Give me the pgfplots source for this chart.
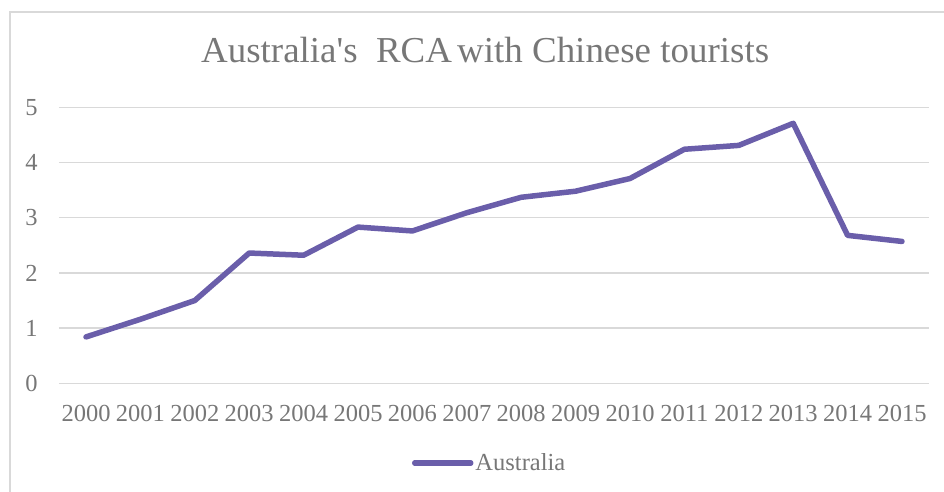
\documentclass[border=0pt]{standalone}
\usepackage{pgfplots}
\pgfplotsset{compat=1.18}
\usepackage{fontspec}
\setmainfont{Liberation Serif}[Ligatures=TeXOff]

\definecolor{rcaline}{HTML}{6A5EAA}
\definecolor{txtgray}{HTML}{777777}
\definecolor{gridgray}{HTML}{D9D9D9}

\begin{document}
\begin{tikzpicture}[x=1pt,y=1pt]
\useasboundingbox (0,0) rectangle (944,492);
% chart area border (only left and top edges are inside the crop)
\draw[gridgray, line width=2pt] (10,-2) -- (10,480) -- (946,480);
% title
\node[anchor=base west, text=txtgray, font=\fontsize{36.5}{40}\selectfont, inner sep=0pt, xscale=1.012]
  at (201,429) {Australia's\ \ RCA\hspace{-4pt} with Chinese tourists};

\begin{axis}[
    at={(58.8pt,108.7pt)},
    anchor=south west,
    scale only axis,
    width=870.4pt,
    height=276pt,
    xmin=1999.5, xmax=2015.5,
    ymin=0, ymax=5,
    xtick=data,
    xticklabels={2000,2001,2002,2003,2004,2005,2006,2007,2008,2009,2010,2011,2012,2013,2014,2015},
    ytick={0,1,2,3,4,5},
    axis line style={draw=none},
    tick style={draw=none},
    ymajorgrids,
    major grid style={gridgray, line width=1.5pt},
    /pgf/number format/assume math mode=true,
    ticklabel style={text=txtgray, font=\fontsize{24.5}{28}\selectfont, inner sep=0pt},
    yticklabel style={anchor=east},
    xticklabel style={anchor=north},
    yticklabel shift=21pt,
    xticklabel shift=21.5pt,
    legend style={
        at={(0.495,-0.289)}, anchor=center, draw=none, fill=none,
        font=\fontsize{24.5}{28}\selectfont, text=txtgray,
        inner sep=0pt, legend cell align=left,
    },
    legend image code/.code={
        \draw[#1, line cap=round] (0pt,0pt) -- (56pt,0pt);
    },
]
\addplot[rcaline, line width=5.5pt, line join=round, line cap=round] coordinates {
    (2000,0.84) (2001,1.16) (2002,1.50) (2003,2.36) (2004,2.32)
    (2005,2.83) (2006,2.76) (2007,3.09) (2008,3.37) (2009,3.48)
    (2010,3.71) (2011,4.24) (2012,4.31) (2013,4.71) (2014,2.68)
    (2015,2.57)
};
\addlegendentry{Australia}
\end{axis}
\end{tikzpicture}
\end{document}
